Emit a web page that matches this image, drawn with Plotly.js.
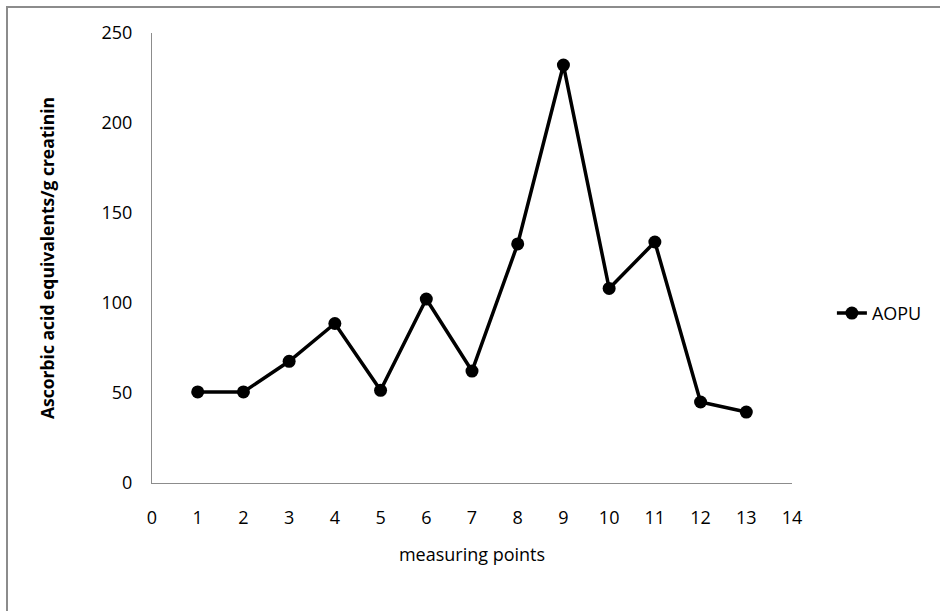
<!DOCTYPE html>
<html>
<head>
<meta charset="utf-8">
<script src="https://cdn.plot.ly/plotly-3.0.1.min.js"></script>
<style>
  html, body { margin: 0; padding: 0; background: #fff; }
  #wrap { position: relative; width: 940px; height: 611px; overflow: hidden; }
  #chart { position: absolute; left: 0; top: 0; width: 940px; height: 611px; }
  #frame { position: absolute; left: 6px; top: 6px; width: 1000px; height: 1000px;
           border-left: 2px solid #8c8c8c; border-top: 2px solid #8c8c8c; pointer-events: none; }
</style>
</head>
<body>
<div id="wrap">
  <div id="chart"></div>
  <div id="frame"></div>
</div>
<script>
const measuringPoints = [1, 2, 3, 4, 5, 6, 7, 8, 9, 10, 11, 12, 13];
const aopu = [50.6, 50.6, 67.6, 88.6, 51.5, 102.2, 62.2, 132.8, 232.2, 108.1, 133.9, 45, 39.4];
const seriesName = 'AOPU';
const xTicks = [0, 1, 2, 3, 4, 5, 6, 7, 8, 9, 10, 11, 12, 13, 14];
const yTicks = [0, 50, 100, 150, 200, 250];

const FONT = '"Open Sans", "Noto Sans", sans-serif';

const trace = {
  x: measuringPoints,
  y: aopu,
  name: seriesName,
  type: 'scatter',
  mode: 'lines+markers',
  line: { color: '#000000', width: 3.5 },
  marker: { color: '#000000', size: 13 },
  showlegend: true
};

const layout = {
  width: 940,
  height: 611,
  paper_bgcolor: '#ffffff',
  plot_bgcolor: '#ffffff',
  margin: { l: 152, r: 148, t: 33, b: 128, pad: 0 },
  font: { family: FONT, size: 18, color: '#000000' },
  showlegend: true,
  xaxis: {
    range: [0, 14],
    tickmode: 'array',
    tickvals: xTicks,
    ticktext: xTicks.map(String),
    showgrid: false,
    zeroline: false,
    showline: true,
    linecolor: '#8c8c8c',
    linewidth: 1,
    ticks: '',
    ticklabelstandoff: 18,
    tickfont: { family: FONT, size: 18, color: '#000' },
    title: { text: 'measuring points', font: { family: FONT, size: 18, color: '#000' }, standoff: 20 },
    automargin: false,
    fixedrange: true
  },
  yaxis: {
    range: [0, 250],
    tickmode: 'array',
    tickvals: yTicks,
    ticktext: yTicks.map(String),
    showgrid: false,
    zeroline: false,
    showline: true,
    linecolor: '#8c8c8c',
    linewidth: 1,
    ticks: '',
    ticklabelstandoff: 15,
    tickfont: { family: FONT, size: 18, color: '#000' },
    title: { text: '<b>Ascorbic acid equivalents/g creatinin</b>', font: { family: FONT, size: 17.5, color: '#000' }, standoff: 42 },
    automargin: false,
    fixedrange: true
  },
  legend: {
    xref: 'container',
    x: 0.885,
    y: 0.377,
    xanchor: 'left',
    yanchor: 'middle',
    bgcolor: 'rgba(0,0,0,0)',
    borderwidth: 0,
    font: { family: FONT, size: 18, color: '#000' }
  }
};

Plotly.newPlot('chart', [trace], layout, { displayModeBar: false, staticPlot: true });
</script>
</body>
</html>
